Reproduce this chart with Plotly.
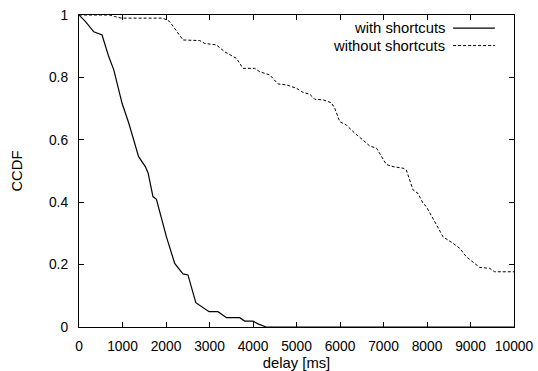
import plotly.graph_objects as go

# with shortcuts (delay ms, CCDF)
with_x = [0, 150, 340, 490, 530, 685, 800, 990, 1145, 1370, 1525, 1590, 1665, 1700, 1780,
          1895, 2010, 2200, 2390, 2505, 2685, 2990, 3195, 3390, 3695, 3810, 4000, 4115,
          4195, 4270, 4300, 10000]
with_y = [1.0, 0.979, 0.946, 0.939, 0.936, 0.866, 0.824, 0.717, 0.653, 0.546, 0.514,
          0.493, 0.439, 0.418, 0.409, 0.348, 0.289, 0.204, 0.170, 0.167, 0.078, 0.049,
          0.049, 0.030, 0.030, 0.019, 0.019, 0.010, 0.006, 0.001, 0.0, 0.0]

# without shortcuts
wo_x = [0, 705, 820, 975, 1930, 2085, 2390, 2775, 2890, 3160, 3350, 3620, 3770, 4040,
        4155, 4385, 4575, 4770, 5000, 5150, 5305, 5420, 5610, 5800, 5880, 5995, 6150,
        6340, 6530, 6685, 6840, 6990, 7065, 7220, 7450, 7525, 7640, 7680, 7795, 7910,
        7985, 8370, 8600, 8755, 8905, 9210, 9440, 9555, 9860, 10000]
wo_y = [1.0, 1.0, 0.995, 0.990, 0.990, 0.979, 0.920, 0.918, 0.909, 0.904, 0.882, 0.861,
        0.829, 0.829, 0.818, 0.808, 0.779, 0.776, 0.765, 0.752, 0.746, 0.730, 0.728,
        0.719, 0.701, 0.658, 0.647, 0.621, 0.599, 0.580, 0.573, 0.535, 0.521, 0.514,
        0.509, 0.503, 0.460, 0.439, 0.428, 0.396, 0.386, 0.289, 0.268, 0.252, 0.225,
        0.191, 0.188, 0.177, 0.177, 0.177]

series_names = ["with shortcuts", "without shortcuts"]
x_ticks = [0, 1000, 2000, 3000, 4000, 5000, 6000, 7000, 8000, 9000, 10000]
y_ticks = [0, 0.2, 0.4, 0.6, 0.8, 1]
y_tick_labels = ["0", "0.2", "0.4", "0.6", "0.8", "1"]

FONT = "Liberation Sans, Arial, Helvetica, sans-serif"
TICK_SIZE = 13.8
TEXT_SIZE = 14.8

fig = go.Figure()
fig.add_trace(go.Scatter(x=with_x, y=with_y, mode="lines", name=series_names[0],
                         line=dict(color="black", width=1.2), showlegend=False))
fig.add_trace(go.Scatter(x=wo_x, y=wo_y, mode="lines", name=series_names[1],
                         line=dict(color="black", width=1, dash="3px,2px"),
                         showlegend=False))

axis_common = dict(showgrid=False, zeroline=False, showline=True, linecolor="black",
                   linewidth=1.3, mirror="allticks", ticks="inside", ticklen=5,
                   tickcolor="black", tickwidth=1, automargin=False,
                   tickfont=dict(family=FONT, size=TICK_SIZE, color="black"))

fig.update_layout(
    width=538, height=371,
    margin=dict(l=79, r=24, t=15, b=44),
    paper_bgcolor="white", plot_bgcolor="white",
    font=dict(family=FONT, size=TEXT_SIZE, color="black"),
    xaxis=dict(range=[0, 10000], tickvals=x_ticks, ticktext=[str(v) for v in x_ticks],
               ticklabelstandoff=6,
               title=dict(text="delay [ms]", standoff=6,
                          font=dict(family=FONT, size=TEXT_SIZE)), **axis_common),
    yaxis=dict(range=[0, 1], tickvals=y_ticks, ticktext=y_tick_labels,
               ticklabelstandoff=7,
               title=dict(text="CCDF", standoff=22,
                          font=dict(family=FONT, size=TEXT_SIZE)), **axis_common),
)

# gnuplot-style legend (text right-aligned, sample line on the right)
legend_rows = [(series_names[0], "solid", 1.2, 0.958), (series_names[1], "3px,2px", 1, 0.902)]
for name, dash, w, yy in legend_rows:
    fig.add_annotation(xref="paper", yref="paper", x=0.8437, y=yy, text=name,
                       showarrow=False, xanchor="right", yanchor="middle",
                       borderpad=0,
                       font=dict(family=FONT, size=TEXT_SIZE, color="black"))
    fig.add_shape(type="line", xref="paper", yref="paper", x0=0.86, x1=0.956,
                  y0=yy, y1=yy, line=dict(color="black", width=w, dash=dash))

fig.write_html("out.html")
